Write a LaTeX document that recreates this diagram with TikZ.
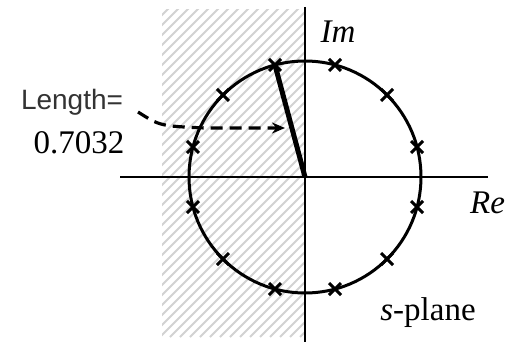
\documentclass[tikz,border=0pt]{standalone}
\usepackage{fontspec}
\setmainfont{Liberation Serif}
\setsansfont{Liberation Sans}
\usetikzlibrary{arrows.meta,shapes.misc}
\tikzset{
  axisline/.style={line width=2.5pt},
  circline/.style={line width=3pt},
  polemark/.style={draw, cross out, line width=3pt, minimum size=9pt, inner sep=0pt},
  hatchline/.style={gray!35, line width=1.8pt},
  vecline/.style={line width=5pt},
  dasharrow/.style={line width=3.2pt, dash pattern=on 12pt off 7pt, -{Stealth[length=13pt,width=11pt]}},
  seriftext/.style={font=\fontsize{33}{38}\selectfont, inner sep=0pt},
  italtext/.style={font=\fontsize{33}{38}\selectfont\itshape, inner sep=0pt},
  sanstext/.style={font=\fontsize{28}{34}\selectfont\sffamily, inner sep=0pt, text=black!80},
}
\begin{document}
\begin{tikzpicture}[x=1pt,y=-1pt]
\useasboundingbox (0,0) rectangle (505,342);
\clip (0,0) rectangle (505,342);
\fill[white] (0,0) rectangle (505,342);
% hatched left half-plane
\begin{scope}
  \clip (162,10) rectangle (305,337);
  \foreach \k in {0,...,49} \draw[hatchline] (\k*10-170,337) -- ++(350,-350);
\end{scope}
% axes
\coordinate (O) at (305,177);
\coordinate (xl) at (120,177);
\coordinate (xr) at (488,177);
\coordinate (yt) at (305,7);
\coordinate (yb) at (305,342);
\draw[axisline] (xl) -- (xr);
\draw[axisline] (yt) -- (yb);
% circle
\draw[circline] (O) circle[radius=116pt];
% poles
\foreach \a in {15,45,75,105,135,165,195,225,255,285,315,345}
  \node[polemark] (p\a) at ([shift={(\a:116pt)}]O) {};
% vector to pole
\draw[vecline] (O) -- (p105.center);
% labels
\node[sanstext] (len) at (72,102) {Length=};
\node[seriftext] (val) at (79,143) {0.7032};
\node[italtext] (im) at (338,32) {Im};
\node[italtext, anchor=west] (re) at (470,203) {Re};
\node[seriftext] (sp) at (428,313) {\textit{s}-plane};
% dashed arrow
\coordinate (dstart) at (138,112);
\coordinate (dtip) at (285,128);
\draw[dasharrow] (dstart) .. controls (160,126) .. (205,128) -- (dtip);
\end{tikzpicture}
\end{document}
